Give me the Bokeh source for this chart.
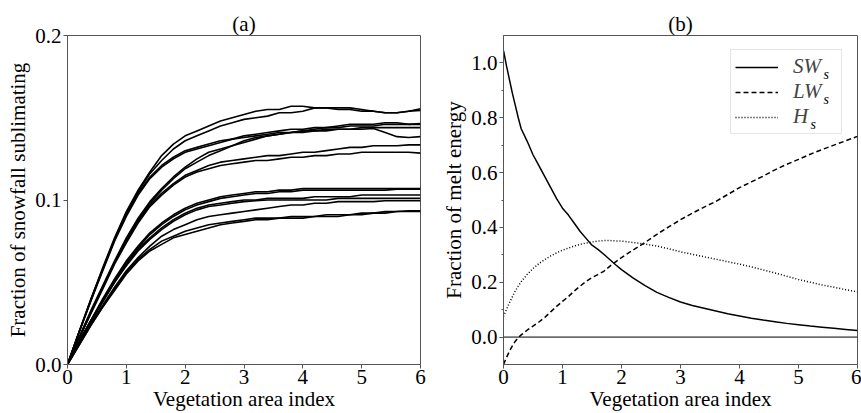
from bokeh.plotting import figure
from bokeh.layouts import row
from bokeh.models import (Range1d, FixedTicker, PrintfTickFormatter, Span,
                          Legend, LegendItem, Label, Title)
from bokeh.embed import file_html
from bokeh.resources import INLINE

FONT = "Liberation Serif"
FS = "21px"

# ---------------- Panel (a) data ----------------
vai_a = [0.0, 0.2, 0.4, 0.6, 0.8, 1.0, 1.2, 1.4, 1.6, 1.8, 2.0, 2.2, 2.4, 2.6, 2.8,
         3.0, 3.2, 3.4, 3.6, 3.8, 4.0, 4.2, 4.4, 4.6, 4.8, 5.0, 5.2, 5.4, 5.6, 5.8, 6.0]

a1 = [0, .020, .040, .059, .077, .093, .106, .117, .127, .134, .139, .142, .145, .148, .150,
      .152, .154, .155, .155, .157, .157, .156, .156, .155, .155, .154, .154, .153, .153, .154, .1555]
a2 = [0, .020, .040, .058, .076, .092, .105, .116, .124, .131, .136, .139, .142, .145, .147,
      .149, .150, .151, .153, .153, .154, .156, .156, .156, .156, .155, .154, .153, .153, .154, .1545]
b1 = [0, .020, .039, .058, .076, .091, .104, .114, .121, .126, .130, .132, .134, .136, .137,
      .138, .139, .140, .141, .141, .142, .142, .143, .143, .143, .143, .1435, .141, .1385, .138, .1385]
b2 = [0, .020, .039, .057, .075, .090, .103, .113, .120, .125, .129, .131, .133, .135, .137,
      .139, .140, .141, .142, .143, .143, .144, .144, .144, .145, .145, .145, .146, .146, .146, .146]
b3 = [0, .017, .033, .048, .063, .077, .089, .099, .107, .114, .120, .125, .129, .131, .133,
      .136, .138, .139, .140, .141, .142, .143, .144, .145, .146, .146, .146, .147, .147, .146, .1465]
b4 = [0, .016, .032, .047, .062, .076, .088, .098, .106, .113, .119, .123, .127, .130, .133,
      .135, .137, .139, .140, .141, .141, .142, .142, .143, .143, .144, .144, .144, .144, .144, .144]
c1 = [0, .016, .032, .047, .062, .075, .087, .097, .104, .110, .115, .118, .121, .123, .124,
      .125, .126, .127, .127, .128, .129, .129, .130, .131, .132, .132, .133, .133, .133, .1335, .1335]
c2 = [0, .016, .031, .046, .061, .074, .086, .096, .103, .109, .114, .117, .119, .121, .122,
      .123, .124, .124, .125, .126, .126, .127, .127, .128, .128, .129, .129, .129, .129, .129, .1285]
d1 = [0, .014, .027, .040, .052, .063, .072, .080, .086, .091, .095, .098, .100, .102, .103,
      .104, .105, .105, .106, .106, .107, .107, .107, .107, .107, .107, .107, .107, .107, .107, .107]
d2 = [0, .014, .027, .039, .051, .062, .071, .079, .085, .090, .094, .097, .099, .101, .102,
      .103, .104, .104, .105, .105, .106, .106, .106, .106, .106, .106, .106, .106, .1065, .1065, .1065]
d3 = [0, .014, .027, .039, .050, .061, .070, .077, .083, .088, .092, .095, .097, .098, .099,
      .100, .100, .101, .101, .101, .101, .102, .102, .102, .102, .103, .103, .103, .103, .103, .103]
d4 = [0, .014, .026, .038, .050, .060, .069, .076, .082, .087, .091, .094, .096, .097, .098,
      .099, .0995, .100, .100, .100, .100, .100, .100, .101, .101, .101, .101, .101, .101, .101, .101]
d5 = [0, .013, .025, .036, .047, .057, .065, .072, .078, .082, .085, .088, .090, .091, .092,
      .093, .094, .095, .096, .097, .097, .098, .098, .099, .099, .099, .099, .0995, .0995, .0995, .0995]
e1 = [0, .012, .024, .035, .046, .056, .064, .070, .075, .078, .081, .083, .085, .086, .087,
      .088, .089, .089, .089, .090, .090, .090, .091, .091, .091, .092, .092, .093, .093, .0935, .0935]
e2 = [0, .012, .024, .035, .045, .055, .063, .069, .073, .077, .079, .081, .083, .085, .086,
      .087, .088, .088, .089, .089, .089, .090, .090, .090, .091, .091, .092, .092, .093, .093, .093]
curves_a = [a1, a2, b1, b2, b3, b4, c1, c2, d1, d2, d3, d4, d5, e1, e2]

# ---------------- Panel (b) data ----------------
vai_b = [0.0, 0.05, 0.1, 0.15, 0.2, 0.25, 0.3, 0.4, 0.5, 0.6, 0.7, 0.8, 0.9, 1.0, 1.1, 1.2,
         1.3, 1.4, 1.5, 1.6, 1.7, 1.8, 1.9, 2.0, 2.2, 2.4, 2.6, 2.8, 3.0, 3.2, 3.4, 3.6,
         3.8, 4.0, 4.2, 4.4, 4.6, 4.8, 5.0, 5.2, 5.4, 5.6, 5.8, 6.0]
sw_s = [1.045, 0.99, 0.94, 0.89, 0.845, 0.80, 0.76, 0.715, 0.665, 0.625, 0.585, 0.545, 0.505,
        0.47, 0.445, 0.415, 0.385, 0.36, 0.335, 0.32, 0.302, 0.283, 0.264, 0.246, 0.215, 0.188,
        0.163, 0.145, 0.128, 0.115, 0.105, 0.095, 0.085, 0.077, 0.069, 0.062, 0.056, 0.050,
        0.045, 0.040, 0.036, 0.032, 0.028, 0.024]
lw_s = [-0.10, -0.075, -0.052, -0.032, -0.015, -0.002, 0.008, 0.025, 0.040, 0.055, 0.072,
        0.092, 0.112, 0.13, 0.148, 0.168, 0.186, 0.203, 0.217, 0.228, 0.24, 0.258, 0.274, 0.29,
        0.318, 0.345, 0.375, 0.402, 0.428, 0.452, 0.474, 0.495, 0.52, 0.545, 0.566, 0.587,
        0.61, 0.63, 0.648, 0.667, 0.684, 0.70, 0.716, 0.732]
h_s = [0.075, 0.10, 0.125, 0.147, 0.168, 0.186, 0.202, 0.228, 0.25, 0.268, 0.283, 0.296,
       0.307, 0.317, 0.325, 0.332, 0.338, 0.343, 0.347, 0.350, 0.352, 0.352, 0.351, 0.35,
       0.345, 0.339, 0.332, 0.322, 0.311, 0.302, 0.293, 0.284, 0.275, 0.266, 0.256, 0.245,
       0.234, 0.222, 0.21, 0.2, 0.19, 0.182, 0.173, 0.165]

x_ticks = [0, 1, 2, 3, 4, 5, 6]
ya_ticks = [0.0, 0.1, 0.2]
yb_ticks = [0.0, 0.2, 0.4, 0.6, 0.8, 1.0]
yb_minor = [0.1, 0.3, 0.5, 0.7, 0.9]

SPINE = "#555555"


def make_title(t):
    return Title(text=t, align="center", text_font=FONT, text_font_size=FS,
                 text_font_style="normal", text_color="black", standoff=0, offset=0)


def style(p):
    p.grid.visible = False
    p.outline_line_color = SPINE
    p.outline_line_alpha = 1.0
    p.outline_line_width = 1
    for ax in (p.xaxis[0], p.yaxis[0]):
        ax.axis_line_color = SPINE
        ax.major_tick_line_color = SPINE
        ax.minor_tick_line_color = SPINE
        ax.major_tick_out = 4
        ax.major_tick_in = 0
        ax.minor_tick_out = 0
        ax.minor_tick_in = 0
        ax.major_label_text_font = FONT
        ax.major_label_text_font_size = FS
        ax.major_label_text_color = "black"
        ax.axis_label_text_font = FONT
        ax.axis_label_text_font_size = FS
        ax.axis_label_text_font_style = "normal"
        ax.axis_label_text_color = "black"
    p.xaxis.major_label_standoff = 1
    p.xaxis.axis_label_standoff = 0
    p.yaxis.major_label_standoff = 2
    p.yaxis.axis_label_standoff = 2
    p.xaxis.ticker = FixedTicker(ticks=x_ticks)
    p.xaxis.formatter = PrintfTickFormatter(format="%d")
    p.xaxis.axis_label = "Vegetation area index"
    p.yaxis.formatter = PrintfTickFormatter(format="%.1f")


p1 = figure(width=430, height=413, x_range=Range1d(0, 6), y_range=Range1d(0, 0.2),
            output_backend="svg", toolbar_location=None, title=make_title("(a)"),
            min_border_left=67, min_border_right=10, min_border_top=35, min_border_bottom=47)
style(p1)
p1.yaxis.ticker = FixedTicker(ticks=ya_ticks)
p1.yaxis.axis_label = "Fraction of snowfall sublimating"
for ys in curves_a:
    p1.line(vai_a, ys, line_color="black", line_width=1.6)

p2 = figure(width=431, height=413, x_range=Range1d(0, 6), y_range=Range1d(-0.1, 1.1),
            output_backend="svg", toolbar_location=None, title=make_title("(b)"),
            min_border_left=73, min_border_right=4, min_border_top=35, min_border_bottom=46)
style(p2)
p2.yaxis.ticker = FixedTicker(ticks=yb_ticks, minor_ticks=yb_minor)
p2.yaxis.minor_tick_out = 2
p2.yaxis.axis_label = "Fraction of melt energy"
p2.add_layout(Span(location=0, dimension="width", line_color="black", line_width=1))
r_sw = p2.line(vai_b, sw_s, line_color="black", line_width=1.5)
r_lw = p2.line(vai_b, lw_s, line_color="black", line_width=1.5, line_dash="5 3")
r_h = p2.line(vai_b, h_s, line_color="black", line_width=1.5, line_dash="1 2")

legend = Legend(items=[LegendItem(label="SW", renderers=[r_sw]),
                       LegendItem(label="LW", renderers=[r_lw]),
                       LegendItem(label="H", renderers=[r_h])],
                location=(227, 230), label_text_font=FONT, label_text_font_style="italic",
                label_text_font_size=FS, glyph_width=43, glyph_height=18,
                label_standoff=15, label_width=44, label_height=22, padding=4, spacing=-2,
                margin=0, border_line_color="#cccccc", border_line_width=1,
                background_fill_alpha=0)
p2.add_layout(legend)
for (sx, sy) in [(320, 283), (320, 258), (307, 233)]:
    p2.add_layout(Label(x=sx, y=sy, x_units="screen", y_units="screen", text="s",
                        text_font=FONT, text_font_style="italic", text_font_size="14px",
                        text_color="black"))

layout = row(p1, p2)
open("out.html", "w").write(file_html(layout, INLINE))
